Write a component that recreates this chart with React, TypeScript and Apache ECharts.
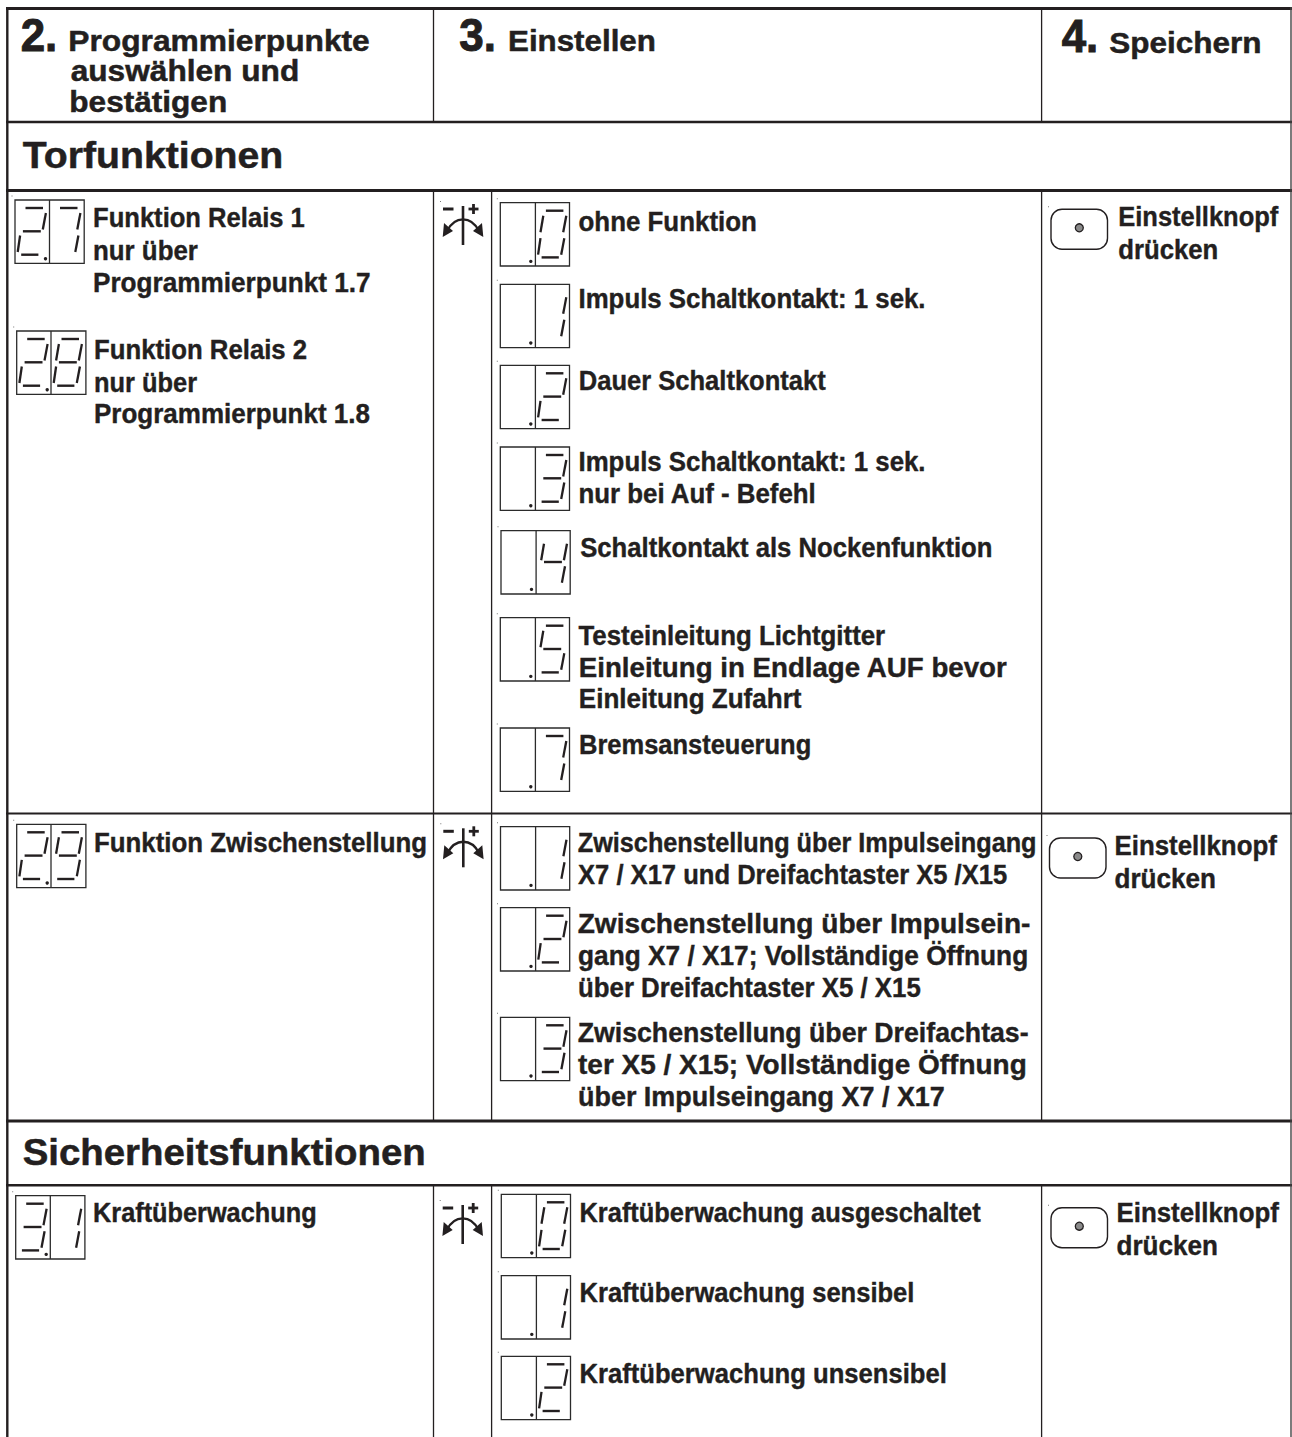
import React, { useEffect, useRef } from "react";
import * as echarts from "echarts";

// ---- content ----
const headerNumbers = ["2.", "3.", "4."];
const headerTitles = ["Programmierpunkte", "auswählen und", "bestätigen", "Einstellen", "Speichern"];
const sectionTitles = ["Torfunktionen", "Sicherheitsfunktionen"];
const programLabels = [
  "Funktion Relais 1", "nur über", "Programmierpunkt 1.7",
  "Funktion Relais 2", "nur über", "Programmierpunkt 1.8",
  "Funktion Zwischenstellung",
  "Kraftüberwachung",
];
const settingLabels = [
  "ohne Funktion",
  "Impuls Schaltkontakt: 1 sek.",
  "Dauer Schaltkontakt",
  "Impuls Schaltkontakt: 1 sek.",
  "nur bei Auf - Befehl",
  "Schaltkontakt als Nockenfunktion",
  "Testeinleitung Lichtgitter",
  "Einleitung in Endlage AUF bevor",
  "Einleitung Zufahrt",
  "Bremsansteuerung",
  "Zwischenstellung über Impulseingang",
  "X7 / X17 und Dreifachtaster X5 /X15",
  "Zwischenstellung über Impulsein-",
  "gang X7 / X17; Vollständige Öffnung",
  "über Dreifachtaster X5 / X15",
  "Zwischenstellung über Dreifachtas-",
  "ter X5 / X15; Vollständige Öffnung",
  "über Impulseingang X7 / X17",
  "Kraftüberwachung ausgeschaltet",
  "Kraftüberwachung sensibel",
  "Kraftüberwachung unsensibel",
];
const saveLabels = ["Einstellknopf", "drücken"];
const programCodes = ["27", "28", "29", "31"];
const settingCodes = ["0", "1", "2", "3", "4", "5", "7", "1", "2", "3", "0", "1", "2"];

// ---- layout (x left, x right, baseline), same order as the texts above ----
const headerNumberBoxes = [[20.7, 57.3, 50], [459.3, 496, 50], [1061.7, 1098.3, 51.5]];
const headerTitleBoxes = [
  [68.3, 370, 50], [70.7, 299.3, 80], [69.3, 227.3, 111],
  [508, 656, 50], [1109.3, 1261.7, 51.5],
];
const sectionBoxes = [[22.7, 283.3, 166.7], [22.7, 426, 1164.3]];
const programBoxes = [
  [93, 305, 226.7], [93, 198, 259.3], [93, 370.5, 291],
  [94, 307.3, 358.3], [94, 197, 390.7], [94, 370, 422.7],
  [94, 427.3, 851.7],
  [93, 316.7, 1220.7],
];
const settingBoxes = [
  [578.5, 757, 230.7],
  [578.5, 925.6, 307.7],
  [578.8, 825.7, 389.3],
  [578.5, 925.6, 470.7],
  [578.5, 817, 502.7],
  [580.2, 992.8, 556.7],
  [578.5, 885.3, 644],
  [578.8, 1008.2, 676],
  [578.8, 801.6, 707.7],
  [579, 811.3, 753.3],
  [577.7, 1036.7, 850.7],
  [578, 1007.5, 883],
  [577.7, 1030.4, 932.3],
  [578, 1028.6, 964.3],
  [578, 920.9, 996.7],
  [577.7, 1028.6, 1040.7],
  [578, 1026.8, 1073.3],
  [578, 945, 1105],
  [579.5, 981, 1221],
  [579.5, 914.6, 1301.7],
  [579.5, 946.8, 1382.3],
];
const saveBlocks = [
  { btn: [1051, 209.3], lines: [[1118.3, 1278.3, 225.5], [1118.3, 1218.3, 258.3]] },
  { btn: [1049.5, 838], lines: [[1114.5, 1277, 854.5], [1114.5, 1216, 887]] },
  { btn: [1051, 1207.7], lines: [[1116.5, 1279, 1221.7], [1116.5, 1218, 1254]] },
];
const programPos = [[15, 200, 34.5], [16.7, 331, 34.3], [16.7, 824.3, 34.3], [15.7, 1195.7, 34.6]];
const settingPos = [
  [500.3, 202.7], [500.3, 284.3], [500.3, 365.3], [500.3, 447], [501, 530.7], [500.3, 617.7], [500.3, 728],
  [500.5, 826.7], [500.5, 907.7], [500.5, 1017.3],
  [501.3, 1194.3], [501.3, 1275.7], [501.3, 1356.3],
];
const dialPos = [[463, 206], [463.3, 828.3], [462.7, 1205]];

const INK = "#231f20";
const FONT = '"Liberation Sans"';
const SEG: Record<string, number[]> = {
  a: [10.5, 8, 28, 8],
  b: [30.9, 13, 27.8, 29.5],
  c: [28.9, 35.5, 25.8, 52],
  d: [6.2, 54.7, 23.4, 54.7],
  e: [5.1, 35.5, 2.7, 52],
  f: [7.9, 13, 5.1, 29.5],
  g: [7.9, 31.3, 25.8, 31.3],
};
const DIGIT: Record<string, string> = {
  "0": "abcdef", "1": "bc", "2": "abged", "3": "abgcd", "4": "fgbc",
  "5": "afgcd", "7": "abc", "8": "abcdefg", "9": "abfgcd",
};

const ctx = document.createElement("canvas").getContext("2d")!;
function fitText(text: string, box: number[], size: number, weight = 0.4): any {
  ctx.font = `bold ${size}px ${FONT}`;
  const w = ctx.measureText(text).width;
  return {
    type: "text",
    x: box[0],
    y: box[2] - 0.3465 * size + 1,
    scaleX: (box[1] - box[0]) / w,
    style: {
      text, x: 0, y: 0, font: `bold ${size}px ${FONT}`, fill: INK,
      stroke: INK, lineWidth: weight, align: "left", verticalAlign: "middle",
    },
  };
}
function line(x1: number, y1: number, x2: number, y2: number, lineWidth: number, stroke = INK, cap = "butt"): any {
  return { type: "line", shape: { x1, y1, x2, y2 }, style: { stroke, lineWidth, lineCap: cap } };
}
function speck(x: number, y: number): any {
  return { type: "rect", shape: { x, y, width: 1, height: 1 }, style: { fill: "#777" } };
}
function digitEls(code: string, ox: number, oy: number): any[] {
  return DIGIT[code].split("").map((k) => {
    const s = SEG[k];
    const horizontal = s[1] === s[3];
    return line(ox + s[0], oy + s[1], ox + s[2], oy + s[3], horizontal ? 2.4 : 2.3, INK, "butt");
  });
}
function display(code: string, x: number, y: number, sep: number): any[] {
  const digits = code.padStart(2, " ");
  const els: any[] = [
    speck(x - 3.5, y - 4.5),
    { type: "rect", shape: { x, y, width: 69.2, height: 63.3 }, style: { fill: "none", stroke: "#2b2b2b", lineWidth: 1.3 } },
    line(x + sep, y, x + sep, y + 63.3, 1.3, "#2b2b2b"),
    { type: "circle", shape: { cx: x + 30.5, cy: y + 58.7, r: 1.7 }, style: { fill: INK } },
  ];
  if (digits[0] !== " ") els.push(...digitEls(digits[0], x, y));
  els.push(...digitEls(digits[1], x + sep, y));
  return els;
}
function dial(x: number, y: number): any[] {
  return [
    speck(x - 23, y - 5),
    line(x, y, x, y + 39, 2.6),
    line(x - 20, y + 3, x - 9.5, y + 3, 3),
    line(x + 5.5, y + 3, x + 15.5, y + 3, 2.8),
    line(x + 10.5, y - 2, x + 10.5, y + 8, 2.8),
    {
      type: "bezierCurve",
      shape: { x1: x - 16, y1: y + 25, x2: x + 16, y2: y + 25, cpx1: x - 8, cpy1: y + 9.5, cpx2: x + 8, cpy2: y + 9.5 },
      style: { stroke: INK, lineWidth: 2.4, fill: "none" },
    },
    { type: "polygon", shape: { points: [[x - 20.3, y + 31], [x - 19, y + 17], [x - 10, y + 25]] }, style: { fill: INK } },
    { type: "polygon", shape: { points: [[x + 20.3, y + 31], [x + 19, y + 17], [x + 10, y + 25]] }, style: { fill: INK } },
  ];
}
function button(x: number, y: number): any[] {
  return [
    speck(x - 3, y - 3),
    { type: "rect", shape: { x, y, width: 56.5, height: 40, r: 11 }, style: { fill: "#fff", stroke: INK, lineWidth: 1.4 } },
    { type: "circle", shape: { cx: x + 28.3, cy: y + 18.5, r: 4 }, style: { fill: "#8a8a8a", stroke: INK, lineWidth: 1.3 } },
  ];
}

function buildElements(): any[] {
  const els: any[] = [];
  // frame and rules
  [[8.5, 2.8], [122, 2.4], [190.5, 2.8], [813.5, 1.8], [1121, 2.8], [1185.3, 2.6]].forEach(([y, w]) =>
    els.push(line(6, y, 1292, y, w))
  );
  els.push(line(7.3, 7, 7.3, 1437, 2.4));
  els.push(line(1291, 7, 1291, 1437, 1.4, "#444"));
  [433.5, 491.6, 1041.6].forEach((x, i) => {
    if (i !== 1) els.push(line(x, 9, x, 122, 1.3));
    els.push(line(x, 190, x, 1121, 1.3));
    els.push(line(x, 1185, x, 1437, 1.3));
  });
  headerNumbers.forEach((t, i) => els.push(fitText(t, headerNumberBoxes[i], 47, 1)));
  headerTitles.forEach((t, i) => els.push(fitText(t, headerTitleBoxes[i], 29.5, 0.5)));
  sectionTitles.forEach((t, i) => els.push(fitText(t, sectionBoxes[i], 37, 0.5)));
  programLabels.forEach((t, i) => els.push(fitText(t, programBoxes[i], 27.5)));
  settingLabels.forEach((t, i) => els.push(fitText(t, settingBoxes[i], 27.5)));
  saveBlocks.forEach((b) => {
    els.push(...button(b.btn[0], b.btn[1]));
    saveLabels.forEach((t, i) => els.push(fitText(t, b.lines[i], 27.5)));
  });
  programCodes.forEach((c, i) => els.push(...display(c, programPos[i][0], programPos[i][1], programPos[i][2])));
  settingCodes.forEach((c, i) => els.push(...display(c, settingPos[i][0], settingPos[i][1], 35.1)));
  dialPos.forEach((p) => els.push(...dial(p[0], p[1])));
  return els;
}

export default function App() {
  const ref = useRef<HTMLDivElement>(null);
  useEffect(() => {
    const chart = echarts.init(ref.current!, null, { renderer: "svg" });
    chart.setOption({
      animation: false,
      backgroundColor: "#ffffff",
      graphic: { elements: buildElements() },
    });
    return () => chart.dispose();
  }, []);
  return <div ref={ref} style={{ position: "absolute", left: 0, top: 0, width: 1292, height: 1437 }} />;
}
